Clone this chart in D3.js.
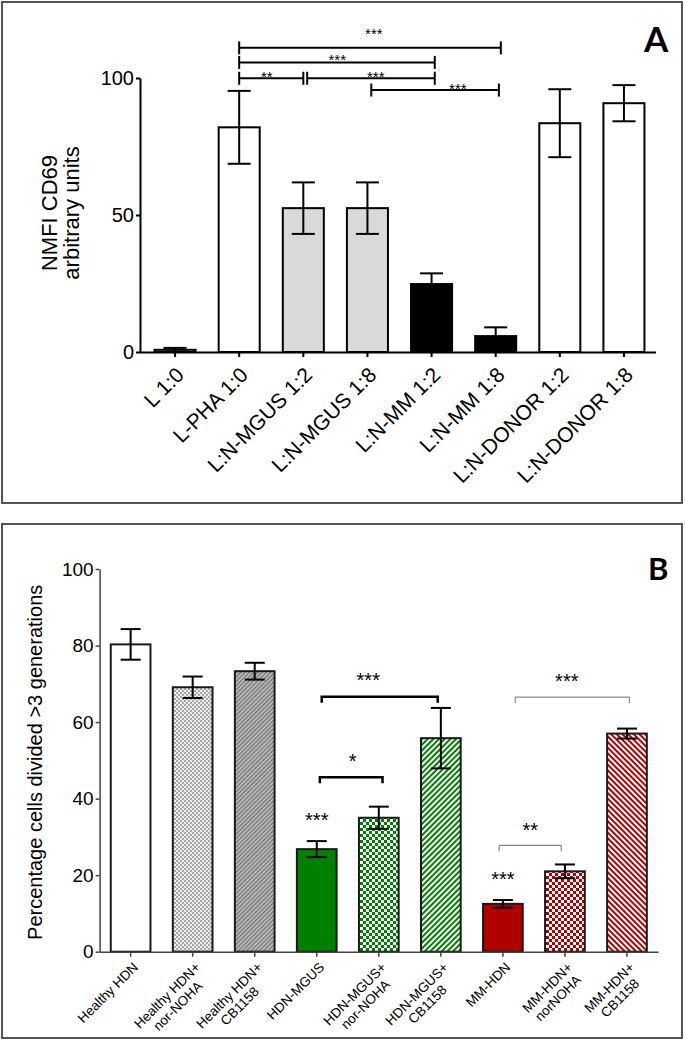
<!DOCTYPE html>
<html><head><meta charset="utf-8">
<script src="https://cdn.jsdelivr.net/npm/d3@7"></script>
<style>
body{margin:0;background:#fff}
svg{display:block}
text{font-family:"Liberation Sans",Arial,sans-serif;fill:#000}
</style>
</head><body>
<svg id="c" width="685" height="1040"></svg>
<script>
// ---------- Panel A data ----------
const catsA = ["L 1:0","L-PHA 1:0","L:N-MGUS 1:2","L:N-MGUS 1:8","L:N-MM 1:2","L:N-MM 1:8","L:N-DONOR 1:2","L:N-DONOR 1:8"];
const valsA = [0.8, 82.0, 52.5, 52.5, 24.8, 5.8, 83.5, 90.8];
const errA  = [0.7, 13.3, 9.4, 9.4, 3.9, 3.2, 12.4, 6.6];
const groupA = ["ctrl","pha","mgus","mgus","mm","mm","donor","donor"];
const ticksA = [0, 50, 100];
const bracketsA = [
  {from:1.0, to:5.08, y:111.0, label:"***", lx:3.10, ly:117.3},
  {from:1.0, to:4.05, y:105.7, label:"***", lx:2.53, ly:107.8},
  {from:1.0, to:2.0,  y:99.9,  label:"**",  lx:1.43, ly:101.6},
  {from:2.06,to:4.05, y:99.9,  label:"***", lx:3.13, ly:101.6},
  {from:3.06,to:5.05, y:95.6,  label:"***", lx:4.41, ly:97.4}
];

// ---------- Panel B data ----------
const catsB = ["Healthy HDN","Healthy HDN+\nnor-NOHA","Healthy HDN+\nCB1158","HDN-MGUS","HDN-MGUS+\nnor-NOHA","HDN-MGUS+\nCB1158","MM-HDN","MM-HDN+\nnorNOHA","MM-HDN+\nCB1158"];
const valsB = [80.3, 69.1, 73.3, 26.8, 35.0, 55.8, 12.5, 21.0, 57.0];
const errB  = [4.0, 2.8, 2.2, 2.1, 2.9, 7.9, 1.0, 1.8, 1.3];
const groupB = ["white","grayChk","grayHatch","green","greenChk","greenStr","red","redChk","redStr"];
const ticksB = [0, 20, 40, 60, 80, 100];
const bracketsB = [
  {from:3.08, to:4.95, y:66.6, label:"***", lx:3.83, ly:72.3, thin:false},
  {from:6.20, to:8.04, y:66.5, label:"***", lx:7.03, ly:71.9, thin:true},
  {from:3.05, to:4.06, y:45.6, label:"*",   lx:3.58, ly:51.0, thin:false},
  {from:5.94, to:6.94, y:27.8, label:"**",  lx:6.44, ly:33.1, thin:true}
];
const starsB = [ {at:3, ly:35.5, label:"***"}, {at:6, ly:20.3, label:"***"} ];

// ---------- drawing ----------
const svg = d3.select("#c");
const defs = svg.append("defs");
const GREEN = "#008000", RED = "#b00000";

function checker(id, c1, c2, s){
  const p = defs.append("pattern").attr("id",id).attr("patternUnits","userSpaceOnUse")
    .attr("width",2*s).attr("height",2*s);
  p.append("rect").attr("width",2*s).attr("height",2*s).attr("fill",c2);
  p.append("rect").attr("width",s).attr("height",s).attr("fill",c1);
  p.append("rect").attr("x",s).attr("y",s).attr("width",s).attr("height",s).attr("fill",c1);
}
function stripes(id, c1, c2, period, angle){
  const p = defs.append("pattern").attr("id",id).attr("patternUnits","userSpaceOnUse")
    .attr("width",period).attr("height",period).attr("patternTransform",`rotate(${angle})`);
  p.append("rect").attr("width",period).attr("height",period).attr("fill",c2);
  p.append("rect").attr("width",period/2).attr("height",period).attr("fill",c1);
}
checker("grayChk", "#a8a8a8", "#ececec", 2);
stripes("grayHatch", "#777777", "#c4c4c4", 3, 45);
checker("greenChk", GREEN, "#ffffff", 3);
stripes("greenStr", GREEN, "#ffffff", 4, 45);
checker("redChk", RED, "#ffffff", 3);
stripes("redStr", RED, "#ffffff", 4, -45);

const fillA = {ctrl:"#d9d9d9", pha:"#fff", mgus:"#d9d9d9", mm:"#000", donor:"#fff"};
const fillB = {white:"#fff", grayChk:"url(#grayChk)", grayHatch:"url(#grayHatch)", green:GREEN,
  greenChk:"url(#greenChk)", greenStr:"url(#greenStr)", red:RED, redChk:"url(#redChk)", redStr:"url(#redStr)"};

svg.append("rect").attr("x",2).attr("y",2).attr("width",680).attr("height",501)
  .attr("fill","none").attr("stroke","#555").attr("stroke-width",2);
svg.append("rect").attr("x",2).attr("y",524).attr("width",680).attr("height",514)
  .attr("fill","none").attr("stroke","#555").attr("stroke-width",2);

function errorBars(g, vals, errs, xc, y, cap, sw){
  vals.forEach((v,i)=>{
    const x = xc(i), e = errs[i];
    g.append("line").attr("x1",x).attr("x2",x).attr("y1",y(v-e)).attr("y2",y(v+e)).attr("stroke","#000").attr("stroke-width",sw);
    [v-e, v+e].forEach(t=>g.append("line").attr("x1",x-cap/2).attr("x2",x+cap/2).attr("y1",y(t)).attr("y2",y(t)).attr("stroke","#000").attr("stroke-width",sw));
  });
}

// ===== Panel A =====
const xA = d3.scaleBand().domain(catsA).range([143,656]).paddingInner(0.36).paddingOuter(0.18);
const yA = d3.scaleLinear().domain([0,100]).range([352,78]);
const stepA = xA.step(), cA = i => xA(catsA[0]) + xA.bandwidth()/2 + i*stepA;

const gA = svg.append("g");
gA.selectAll("rect.bar").data(valsA).join("rect").attr("class","bar")
  .attr("x",(d,i)=>xA(catsA[i])).attr("width",xA.bandwidth())
  .attr("y",d=>yA(d)).attr("height",d=>yA(0)-yA(d))
  .attr("fill",(d,i)=>fillA[groupA[i]]).attr("stroke","#000").attr("stroke-width",2);
errorBars(gA, valsA, errA, cA, yA, 23, 2);

const axA = gA.append("g").attr("transform","translate(140,0)")
  .call(d3.axisLeft(yA).tickValues(ticksA).tickSize(4).tickSizeOuter(0).tickPadding(2));
axA.select(".domain").attr("stroke-width",2);
axA.selectAll(".tick line").attr("stroke-width",2);
axA.selectAll("text").attr("font-size",20).attr("font-family",null);

const axAx = gA.append("g").attr("transform",`translate(0,${yA(0)})`)
  .call(d3.axisBottom(xA).tickSize(5).tickSizeOuter(0));
axAx.select(".domain").attr("d","M140,0.5H656").attr("stroke-width",2);
axAx.selectAll(".tick line").attr("stroke-width",2);
axAx.selectAll(".tick text").remove();

svg.append("g").selectAll("text").data(catsA).join("text")
  .attr("transform",d=>`translate(${xA(d)+xA.bandwidth()/2+5},${yA(0)+19}) rotate(-45)`)
  .attr("text-anchor","end").attr("dy","0.35em").attr("font-size",21)
  .text(d=>d);

const ylA = gA.append("text").attr("transform",`translate(57,${yA(50)-2}) rotate(-90)`)
  .attr("text-anchor","middle").attr("font-size",22);
ylA.append("tspan").attr("x",0).attr("y",0).text("NMFI CD69");
ylA.append("tspan").attr("x",0).attr("y",22).text("arbitrary units");

bracketsA.forEach(b=>{
  const x1=cA(b.from), x2=cA(b.to), yy=yA(b.y);
  gA.append("line").attr("x1",x1).attr("x2",x2).attr("y1",yy).attr("y2",yy).attr("stroke","#000").attr("stroke-width",2);
  [x1,x2].forEach(x=>gA.append("line").attr("x1",x).attr("x2",x).attr("y1",yy-6.5).attr("y2",yy+6.5).attr("stroke","#000").attr("stroke-width",2));
  gA.append("text").attr("x",cA(b.lx)).attr("y",yA(b.ly)+0.575*15).attr("text-anchor","middle").attr("font-size",15).text(b.label);
});

svg.append("text").attr("x",644).attr("y",52).attr("font-weight","bold").attr("font-size",35)
  .style("font-family","Lato, sans-serif").text("A");

// ===== Panel B =====
const xB = d3.scaleBand().domain(catsB).range([99.6,658]).paddingInner(0.36).paddingOuter(0.18);
const yB = d3.scaleLinear().domain([0,100]).range([951.7,569]);
const stepB = xB.step(), cB = i => xB(catsB[0]) + xB.bandwidth()/2 + i*stepB;

const gB = svg.append("g");
gB.selectAll("rect.bar").data(valsB).join("rect").attr("class","bar")
  .attr("x",(d,i)=>xB(catsB[i])).attr("width",xB.bandwidth())
  .attr("y",d=>yB(d)).attr("height",d=>yB(0)-yB(d))
  .attr("fill",(d,i)=>fillB[groupB[i]]).attr("stroke","#1a1a1a").attr("stroke-width",2);
errorBars(gB, valsB, errB, cB, yB, 20, 2);

const axB = gB.append("g").attr("transform","translate(99.6,0)")
  .call(d3.axisLeft(yB).tickValues(ticksB).tickSize(4).tickSizeOuter(0).tickPadding(2));
axB.select(".domain").attr("stroke","#444").attr("stroke-width",1.5);
axB.selectAll(".tick line").attr("stroke","#444").attr("stroke-width",1.5);
axB.selectAll("text").attr("font-size",19).attr("font-family",null);

const axBx = gB.append("g").attr("transform",`translate(0,${yB(0)})`)
  .call(d3.axisBottom(xB).tickSize(5).tickSizeOuter(0));
axBx.select(".domain").attr("stroke","#444").attr("stroke-width",1.5);
axBx.selectAll(".tick line").attr("stroke","#444").attr("stroke-width",1.5);
axBx.selectAll(".tick text").remove();

const labB = svg.append("g");
catsB.forEach(d=>{
  const lines = d.split("\n");
  const g = labB.append("g").attr("transform",`translate(${xB(d)+xB.bandwidth()/2+5},${yB(0)+13}) rotate(-45)`);
  const t1 = g.append("text").attr("text-anchor","end").attr("dy","0.35em").attr("font-size",13.5).text(lines[0]);
  if(lines.length>1){
    const w = t1.node().getComputedTextLength();
    g.append("text").attr("text-anchor","middle").attr("x",-w/2).attr("y",15).attr("dy","0.35em")
      .attr("font-size",13.5).text(lines[1]);
  }
});

gB.append("text").attr("transform",`translate(42,${(yB(0)+yB(100))/2 + 2}) rotate(-90)`)
  .attr("text-anchor","middle").attr("font-size",20).text("Percentage cells divided >3 generations");

bracketsB.forEach(b=>{
  const x1=cB(b.from), x2=cB(b.to), yy=yB(b.y);
  const col = b.thin ? "#8a8a8a" : "#000", sw = b.thin ? 1.2 : 2.5;
  gB.append("path").attr("d",`M${x1},${yy+6}V${yy}H${x2}V${yy+6}`).attr("fill","none").attr("stroke",col).attr("stroke-width",sw);
  gB.append("text").attr("x",cB(b.lx)).attr("y",yB(b.ly)+0.575*20).attr("text-anchor","middle").attr("font-size",20).text(b.label);
});
starsB.forEach(s=>{
  gB.append("text").attr("x",cB(s.at)).attr("y",yB(s.ly)+0.575*20).attr("text-anchor","middle").attr("font-size",20).text(s.label);
});

svg.append("text").attr("x",648).attr("y",580).attr("font-weight","bold").attr("font-size",31)
  .style("font-family","Lato, sans-serif").text("B");
</script>
</body></html>
